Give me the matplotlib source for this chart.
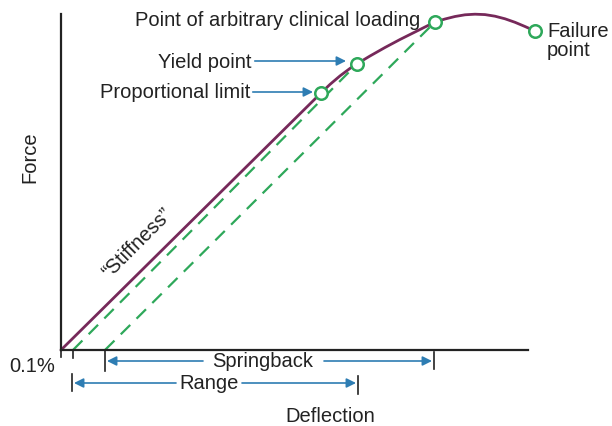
import matplotlib.pyplot as plt

plt.rcParams['font.family'] = ['Liberation Sans', 'DejaVu Sans']

# load-deflection curve (deflection, force)
deflection = [0, 260, 269, 279, 289, 296, 309, 324, 339, 354, 374, 384,
              394, 404, 414, 424, 434, 444, 454, 464, 474]
force = [0, 257, 265.6, 274.1, 281.6, 286.2, 294, 302.5, 310.5, 318, 328, 331,
         333.5, 335.2, 335.8, 335.4, 333.8, 331.2, 327.7, 323.5, 319]

# marked points on the curve
point_names = ['Proportional limit', 'Yield point', 'Point of arbitrary clinical loading', 'Failure point']
point_x = [260, 296, 374, 474]
point_y = [257, 286, 328, 319]

# unloading lines (start on the x axis, end at a marked point)
unload_start = [12, 44]
unload_end_x = [296, 374]
unload_end_y = [286, 328]

purple = '#76295a'
green = '#2ea85a'
blue = '#2e7db3'
ink = '#222222'
fs = 14.5

fig = plt.figure(figsize=(6.12, 4.27), dpi=100)
ax = fig.add_axes([61 / 612, 76 / 427, 467 / 612, 336 / 427])
ax.set_xlim(0, 467)
ax.set_ylim(0, 336)
for s in ['top', 'right']:
    ax.spines[s].set_visible(False)
for s in ['left', 'bottom']:
    ax.spines[s].set_linewidth(1.6)
    ax.spines[s].set_color(ink)
ax.set_xticks([])
ax.set_yticks([])

# dashed unloading lines
for x0, x1, y1 in zip(unload_start, unload_end_x, unload_end_y):
    ax.plot([x0, x1], [0, y1], color=green, lw=1.6, ls=(0, (6, 4)), clip_on=False)

ax.plot(deflection, force, color=purple, lw=2, clip_on=False, solid_capstyle='round')
ax.plot(point_x, point_y, 'o', ms=9, mfc='white', mec=green, mew=1.8, clip_on=False, zorder=5)

# labels of the points
ax.text(359, 331, point_names[2], ha='right', va='center', fontsize=fs, color=ink)
ax.text(486, 310, 'Failure\npoint', ha='left', va='center', fontsize=fs, color=ink, linespacing=0.95)
arr = dict(arrowstyle='-|>', color=blue, lw=1.2, mutation_scale=14, shrinkA=0, shrinkB=0)
ax.annotate(point_names[1], xy=(285, 289), xytext=(191, 289), ha='right', va='center',
            fontsize=fs, color=ink, arrowprops=arr)
ax.annotate(point_names[0], xy=(252, 258), xytext=(189, 258), ha='right', va='center',
            fontsize=fs, color=ink, arrowprops=arr)

ax.text(76, 108, '\u201cStiffness\u201d', rotation=45, ha='center', va='center', fontsize=fs, color=ink)
ax.text(-31, 194, 'Force', rotation=90, ha='center', va='center', fontsize=fs, color=ink)
ax.text(-6, -16, '0.1%', ha='right', va='center', fontsize=fs, color=ink)
ax.text(269, -66, 'Deflection', ha='center', va='center', fontsize=fs, color=ink)

# ticks under the x axis
tick = dict(color=ink, lw=1.2, clip_on=False)
ax.plot([0, 0], [0, -7], **tick)
ax.plot([12, 12], [0, -8], **tick)
ax.plot([44, 44], [0, -21], **tick)
ax.plot([373, 373], [-2, -19], **tick)
ax.plot([11, 11], [-24, -41], **tick)
ax.plot([297, 297], [-26, -44], **tick)

# springback and range spans
ax.annotate('', xy=(46, -11), xytext=(142, -11), arrowprops=arr, annotation_clip=False)
ax.annotate('', xy=(371, -11), xytext=(263, -11), arrowprops=arr, annotation_clip=False)
ax.text(202, -11, 'Springback', ha='center', va='center', fontsize=fs, color=ink)
ax.annotate('', xy=(13, -33), xytext=(115, -33), arrowprops=arr, annotation_clip=False)
ax.annotate('', xy=(295, -33), xytext=(181, -33), arrowprops=arr, annotation_clip=False)
ax.text(148, -33, 'Range', ha='center', va='center', fontsize=fs, color=ink)

fig.savefig('out.png', dpi=100)
